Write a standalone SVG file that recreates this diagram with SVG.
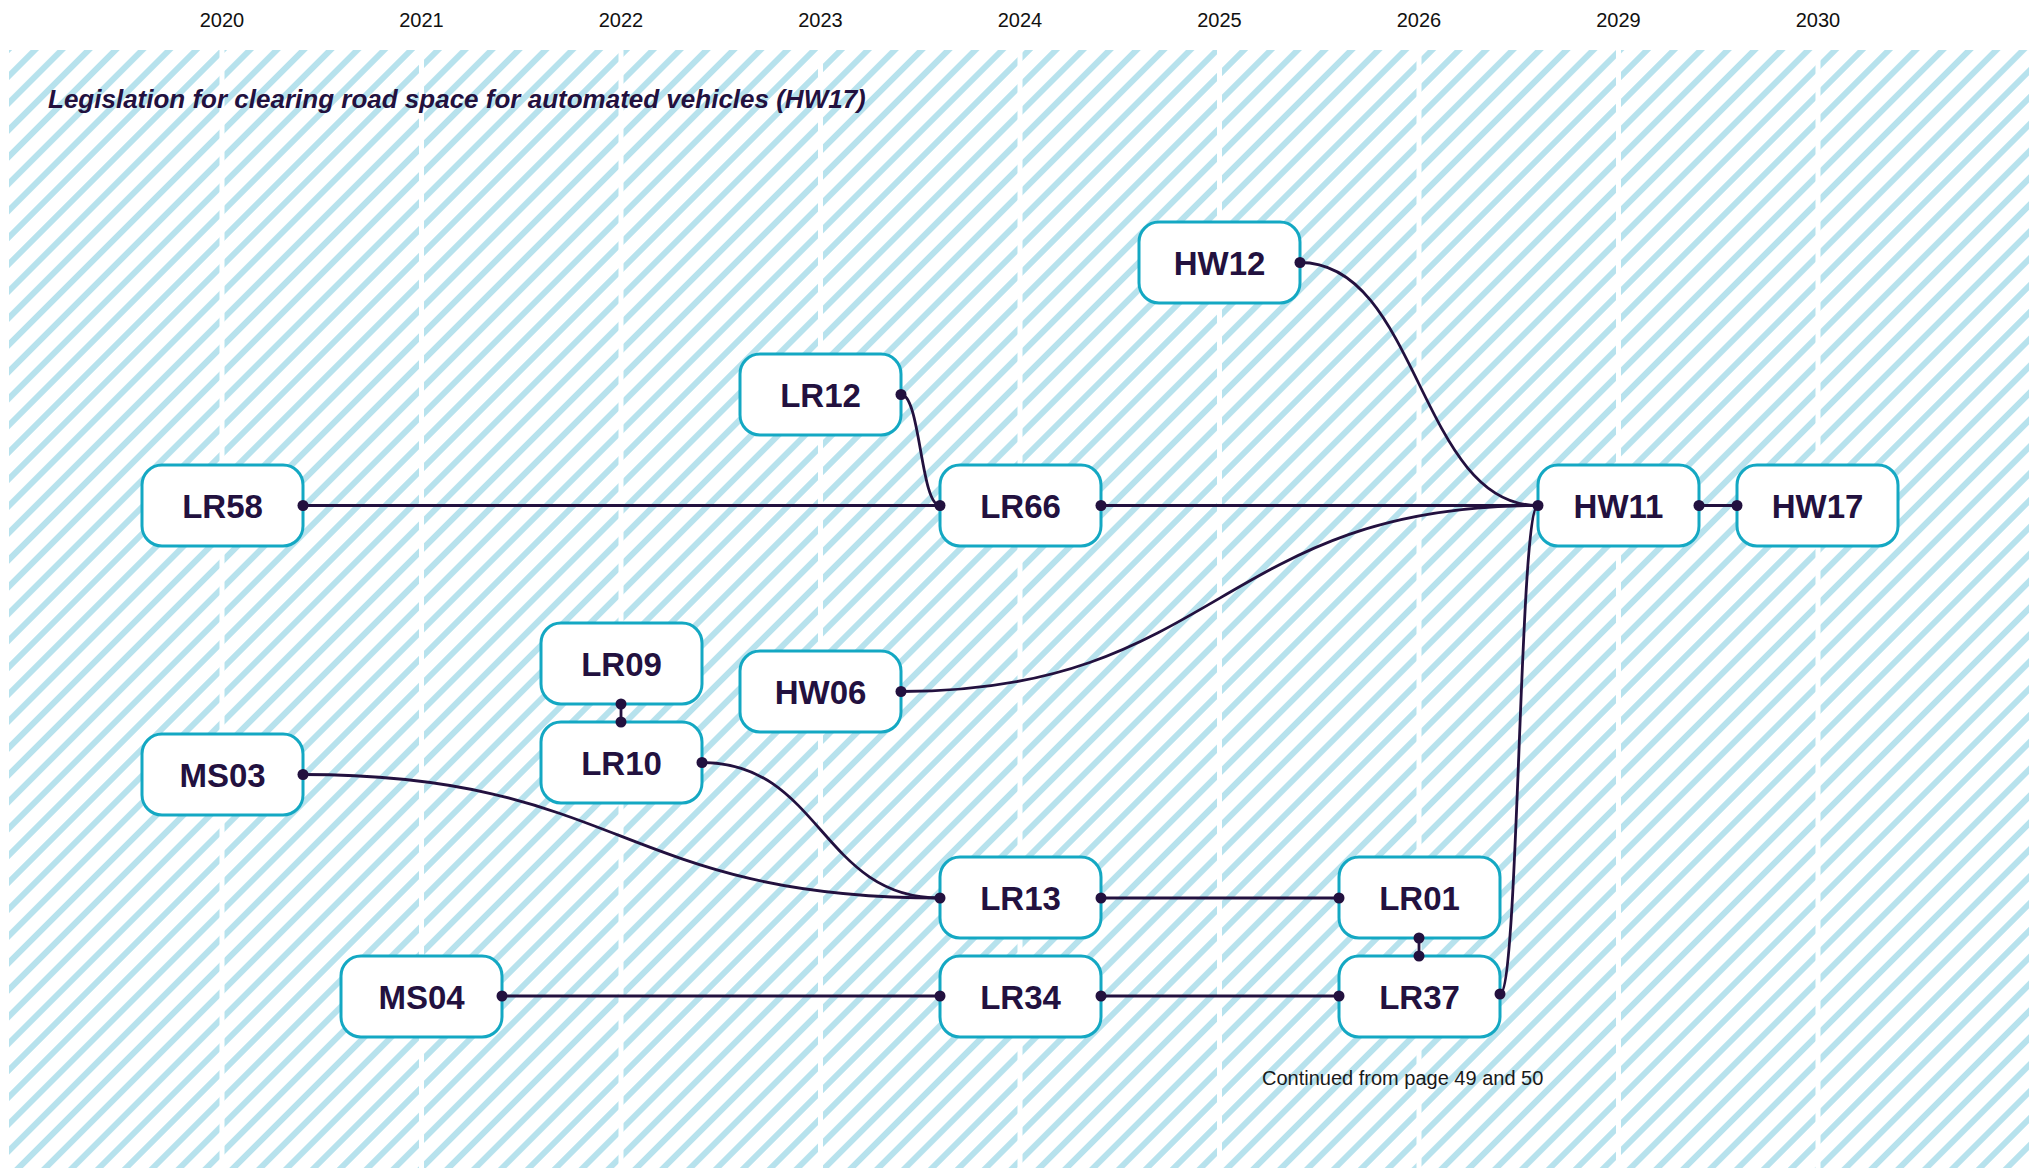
<svg xmlns="http://www.w3.org/2000/svg" width="2040" height="1168" viewBox="0 0 2040 1168">
<defs>
<pattern id="hatch" width="19" height="19" patternUnits="userSpaceOnUse" patternTransform="rotate(45)">
<rect x="0" y="0" width="6" height="19" fill="#b7e2ed"/>
</pattern>
</defs>
<style>
.yr{font-family:"Liberation Sans",Arial,sans-serif;font-size:20px;fill:#111111;text-anchor:middle}
.title{font-family:"Liberation Sans",Arial,sans-serif;font-size:26px;font-weight:bold;font-style:italic;fill:#23113f}
.box{fill:#ffffff;stroke:#14a8c3;stroke-width:3}
.lbl{font-family:"Liberation Sans",Arial,sans-serif;font-size:33px;font-weight:bold;fill:#23113f;text-anchor:middle}
.note{font-family:"Liberation Sans",Arial,sans-serif;font-size:20px;fill:#1a1a1a}
.con path{fill:none;stroke:#23113f;stroke-width:2.8}
.con circle{fill:#23113f}
.sep{fill:#ffffff}
</style>
<rect x="0" y="0" width="2040" height="1168" fill="#ffffff"/>
<rect x="9" y="50" width="2020" height="1118" fill="url(#hatch)"/>
<g id="columns">
<rect class="sep" x="219.5" y="50" width="5" height="1118"/>
<rect class="sep" x="419" y="50" width="5" height="1118"/>
<rect class="sep" x="618.5" y="50" width="5" height="1118"/>
<rect class="sep" x="818" y="50" width="5" height="1118"/>
<rect class="sep" x="1017.5" y="50" width="5" height="1118"/>
<rect class="sep" x="1217" y="50" width="5" height="1118"/>
<rect class="sep" x="1416.5" y="50" width="5" height="1118"/>
<rect class="sep" x="1616" y="50" width="5" height="1118"/>
<rect class="sep" x="1815.5" y="50" width="5" height="1118"/>
</g>
<g id="years">
<text class="yr" x="222" y="27">2020</text>
<text class="yr" x="421.5" y="27">2021</text>
<text class="yr" x="621" y="27">2022</text>
<text class="yr" x="820.5" y="27">2023</text>
<text class="yr" x="1020" y="27">2024</text>
<text class="yr" x="1219.5" y="27">2025</text>
<text class="yr" x="1419" y="27">2026</text>
<text class="yr" x="1618.5" y="27">2029</text>
<text class="yr" x="1818" y="27">2030</text>
</g>
<text class="title" x="48" y="108">Legislation for clearing road space for automated vehicles (HW17)</text>
<g id="HW12"><rect class="box" x="1139" y="222" width="161" height="81" rx="20"/><text class="lbl" x="1219.5" y="275">HW12</text></g>
<g id="LR12"><rect class="box" x="740" y="354" width="161" height="81" rx="20"/><text class="lbl" x="820.5" y="407">LR12</text></g>
<g id="LR58"><rect class="box" x="142" y="465" width="161" height="81" rx="20"/><text class="lbl" x="222.5" y="518">LR58</text></g>
<g id="LR66"><rect class="box" x="940" y="465" width="161" height="81" rx="20"/><text class="lbl" x="1020.5" y="518">LR66</text></g>
<g id="HW11"><rect class="box" x="1538" y="465" width="161" height="81" rx="20"/><text class="lbl" x="1618.5" y="518">HW11</text></g>
<g id="HW17"><rect class="box" x="1737" y="465" width="161" height="81" rx="20"/><text class="lbl" x="1817.5" y="518">HW17</text></g>
<g id="LR09"><rect class="box" x="541" y="623" width="161" height="81" rx="20"/><text class="lbl" x="621.5" y="676">LR09</text></g>
<g id="HW06"><rect class="box" x="740" y="651" width="161" height="81" rx="20"/><text class="lbl" x="820.5" y="704">HW06</text></g>
<g id="LR10"><rect class="box" x="541" y="722" width="161" height="81" rx="20"/><text class="lbl" x="621.5" y="775">LR10</text></g>
<g id="MS03"><rect class="box" x="142" y="734" width="161" height="81" rx="20"/><text class="lbl" x="222.5" y="787">MS03</text></g>
<g id="LR13"><rect class="box" x="940" y="857" width="161" height="81" rx="20"/><text class="lbl" x="1020.5" y="910">LR13</text></g>
<g id="LR01"><rect class="box" x="1339" y="857" width="161" height="81" rx="20"/><text class="lbl" x="1419.5" y="910">LR01</text></g>
<g id="MS04"><rect class="box" x="341" y="956" width="161" height="81" rx="20"/><text class="lbl" x="421.5" y="1009">MS04</text></g>
<g id="LR34"><rect class="box" x="940" y="956" width="161" height="81" rx="20"/><text class="lbl" x="1020.5" y="1009">LR34</text></g>
<g id="LR37"><rect class="box" x="1339" y="956" width="161" height="81" rx="20"/><text class="lbl" x="1419.5" y="1009">LR37</text></g>
<g id="connectors" class="con">
<path d="M303,505.5 L940,505.5"/>
<path d="M901,394.5 C920.5,394.5 920.5,505.5 940,505.5"/>
<path d="M1101,505.5 L1538,505.5"/>
<path d="M1300,262.5 C1419,262.5 1419,505.5 1538,505.5"/>
<path d="M901,691.5 C1219,691.5 1219,505.5 1538,505.5"/>
<path d="M1500,994 C1519,994 1519,505.5 1538,505.5"/>
<path d="M1699,505.5 L1737,505.5"/>
<path d="M621,704 L621,722"/>
<path d="M702,762.5 C821,762.5 821,898 940,898"/>
<path d="M303,774.5 C621,774.5 621,898 940,898"/>
<path d="M1101,898 L1339,898"/>
<path d="M1419,938 L1419,956"/>
<path d="M502,996 L940,996"/>
<path d="M1101,996 L1339,996"/>
<circle cx="303" cy="505.5" r="5.5"/>
<circle cx="940" cy="505.5" r="5.5"/>
<circle cx="901" cy="394.5" r="5.5"/>
<circle cx="1101" cy="505.5" r="5.5"/>
<circle cx="1538" cy="505.5" r="5.5"/>
<circle cx="1300" cy="262.5" r="5.5"/>
<circle cx="901" cy="691.5" r="5.5"/>
<circle cx="1500" cy="994" r="5.5"/>
<circle cx="1699" cy="505.5" r="5.5"/>
<circle cx="1737" cy="505.5" r="5.5"/>
<circle cx="621" cy="704" r="5.5"/>
<circle cx="621" cy="722" r="5.5"/>
<circle cx="702" cy="762.5" r="5.5"/>
<circle cx="940" cy="898" r="5.5"/>
<circle cx="303" cy="774.5" r="5.5"/>
<circle cx="1101" cy="898" r="5.5"/>
<circle cx="1339" cy="898" r="5.5"/>
<circle cx="1419" cy="938" r="5.5"/>
<circle cx="1419" cy="956" r="5.5"/>
<circle cx="502" cy="996" r="5.5"/>
<circle cx="940" cy="996" r="5.5"/>
<circle cx="1101" cy="996" r="5.5"/>
<circle cx="1339" cy="996" r="5.5"/>
</g>
<text class="note" x="1262" y="1085">Continued from page 49 and 50</text>
</svg>
